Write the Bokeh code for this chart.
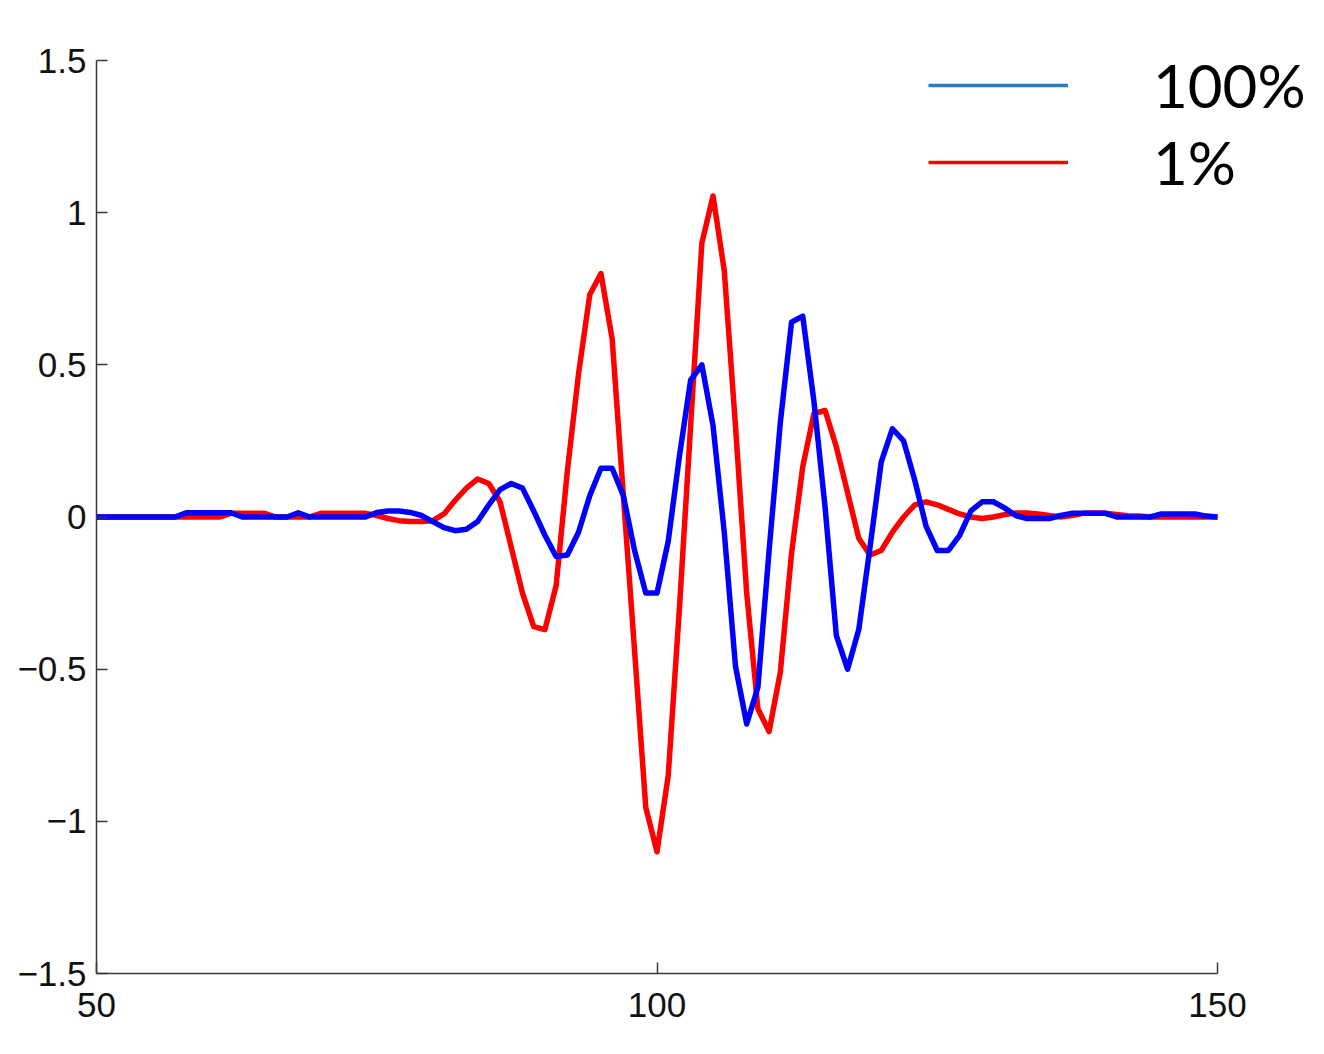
from bokeh.plotting import figure
from bokeh.models import Range1d, FixedTicker, Legend, LegendItem, ColumnDataSource
from bokeh.embed import file_html
from bokeh.resources import INLINE

# sample positions
x = list(range(50, 151))

# series "1%" (red)
red = [0, 0, 0, 0, 0, 0, 0, 0,
       0, 0, 0, 0,
       0.012, 0.012, 0.012, 0.012,
       0, 0, 0, 0,
       0.012, 0.012, 0.012, 0.012, 0.012,
       0.005, -0.005, -0.012, -0.015, -0.015, -0.012, 0.01, 0.055, 0.095, 0.125,
       0.11, 0.05, -0.1, -0.25, -0.36, -0.37, -0.226, 0.15, 0.47, 0.73,
       0.8, 0.585, 0.07, -0.44, -0.955, -1.1, -0.85, -0.3, 0.3, 0.9,
       1.055, 0.81, 0.3, -0.25, -0.63, -0.705, -0.51, -0.12, 0.165, 0.34,
       0.35, 0.23, 0.08, -0.07, -0.125, -0.11, -0.05, 0.0, 0.04, 0.05,
       0.04, 0.025, 0.01, 0.0, -0.005, 0.0, 0.008, 0.013, 0.013, 0.01,
       0.005, 0.0, 0.005, 0.012, 0.013, 0.012, 0.008, 0.004, 0.003,
       0, 0, 0, 0, 0, 0, 0]

# series "100%" (blue)
blue = [0, 0, 0, 0, 0, 0, 0, 0,
        0.014, 0.014, 0.014, 0.014, 0.014,
        0, 0, 0, 0, 0,
        0.014,
        0, 0, 0, 0, 0, 0,
        0.015, 0.02, 0.02, 0.015, 0.005, -0.015, -0.035, -0.045, -0.04, -0.015,
        0.04, 0.09, 0.11, 0.095, 0.02, -0.06, -0.13, -0.125, -0.05, 0.07,
        0.16, 0.16, 0.07, -0.11, -0.25, -0.25, -0.08, 0.2, 0.45, 0.5,
        0.3, -0.05, -0.49, -0.68, -0.56, -0.11, 0.31, 0.64, 0.66, 0.38,
        0.03, -0.39, -0.5, -0.37, -0.1, 0.18, 0.29, 0.25, 0.12, -0.03,
        -0.11, -0.11, -0.06, 0.02, 0.05, 0.05, 0.03, 0.005, -0.005, -0.005,
        -0.005, 0.005, 0.012, 0.012, 0.012, 0.012, 0.0, 0.0, 0.0, 0.0,
        0.01, 0.01, 0.01, 0.01, 0.003, 0.0]

assert len(red) == len(x) and len(blue) == len(x)

x_ticks = [50, 100, 150]
y_ticks = [-1.5, -1, -0.5, 0, 0.5, 1, 1.5]
y_tick_labels = ["\u22121.5", "\u22121", "\u22120.5", "0", "0.5", "1", "1.5"]
legend_labels = ["100%", "1%"]

# axis extents (the frame is a bit larger so the legend fits inside it)
X0, X1 = 50, 150
Y0, Y1 = -1.5, 1.5
FRAME_W, FRAME_H = 1224, 933
PX_X = 1121 / (X1 - X0)
PX_Y = 913 / (Y1 - Y0)

p = figure(width=96 + FRAME_W, height=40 + FRAME_H + 67,
           output_backend="svg", toolbar_location=None,
           x_range=Range1d(X0, X0 + FRAME_W / PX_X),
           y_range=Range1d(Y0, Y0 + FRAME_H / PX_Y),
           min_border_left=96, min_border_right=0, min_border_top=40, min_border_bottom=67)

p.grid.visible = False
p.outline_line_color = None
p.background_fill_color = "white"
p.border_fill_color = "white"

p.xaxis.ticker = FixedTicker(ticks=x_ticks)
p.yaxis.ticker = FixedTicker(ticks=y_ticks)
p.xaxis.bounds = (X0, X1)
p.yaxis.bounds = (Y0, Y1)
p.yaxis.major_label_overrides = {float(t): lab for t, lab in zip(y_ticks, y_tick_labels)}
p.xaxis.major_label_overrides = {float(t): str(t) for t in x_ticks}

for ax in (p.xaxis, p.yaxis):
    ax.axis_line_color = "#3a3a3a"
    ax.axis_line_width = 1.5
    ax.major_tick_line_color = "#3a3a3a"
    ax.major_tick_line_width = 1.5
    ax.major_tick_in = 11
    ax.major_tick_out = 0
    ax.minor_tick_line_color = None
    ax.major_label_text_font = "Liberation Sans"
    ax.major_label_text_font_size = "35px"
    ax.major_label_text_color = "#111111"

p.yaxis.major_label_standoff = 10
p.xaxis.major_label_standoff = 19

src = ColumnDataSource(data=dict(x=x, red=red, blue=blue))
p.line("x", "red", source=src, line_color="#ff0000", line_width=5.5, line_join="round")
p.line("x", "blue", source=src, line_color="#0000ff", line_width=5.5, line_join="round")

# legend swatches (renderers with no drawable data, only used for legend glyphs)
nan = float("nan")
empty = ColumnDataSource(data=dict(x=[nan], y=[nan]))
lg_blue = p.line("x", "y", source=empty, line_color="#2a7ac6", line_width=3.5)
lg_red = p.line("x", "y", source=empty, line_color="#ff0000", line_width=3.5)

legend = Legend(items=[LegendItem(label=legend_labels[0], renderers=[lg_blue]),
                       LegendItem(label=legend_labels[1], renderers=[lg_red])],
                location=(832, 775), orientation="vertical",
                border_line_color=None, background_fill_alpha=0,
                glyph_width=140, glyph_height=70, label_height=70,
                label_standoff=85, spacing=5, padding=0, margin=0,
                label_text_font="Lato", label_text_font_size="60px",
                label_text_color="black", label_text_baseline="middle")
p.add_layout(legend, "center")

open("out.html", "w").write(file_html(p, INLINE))
